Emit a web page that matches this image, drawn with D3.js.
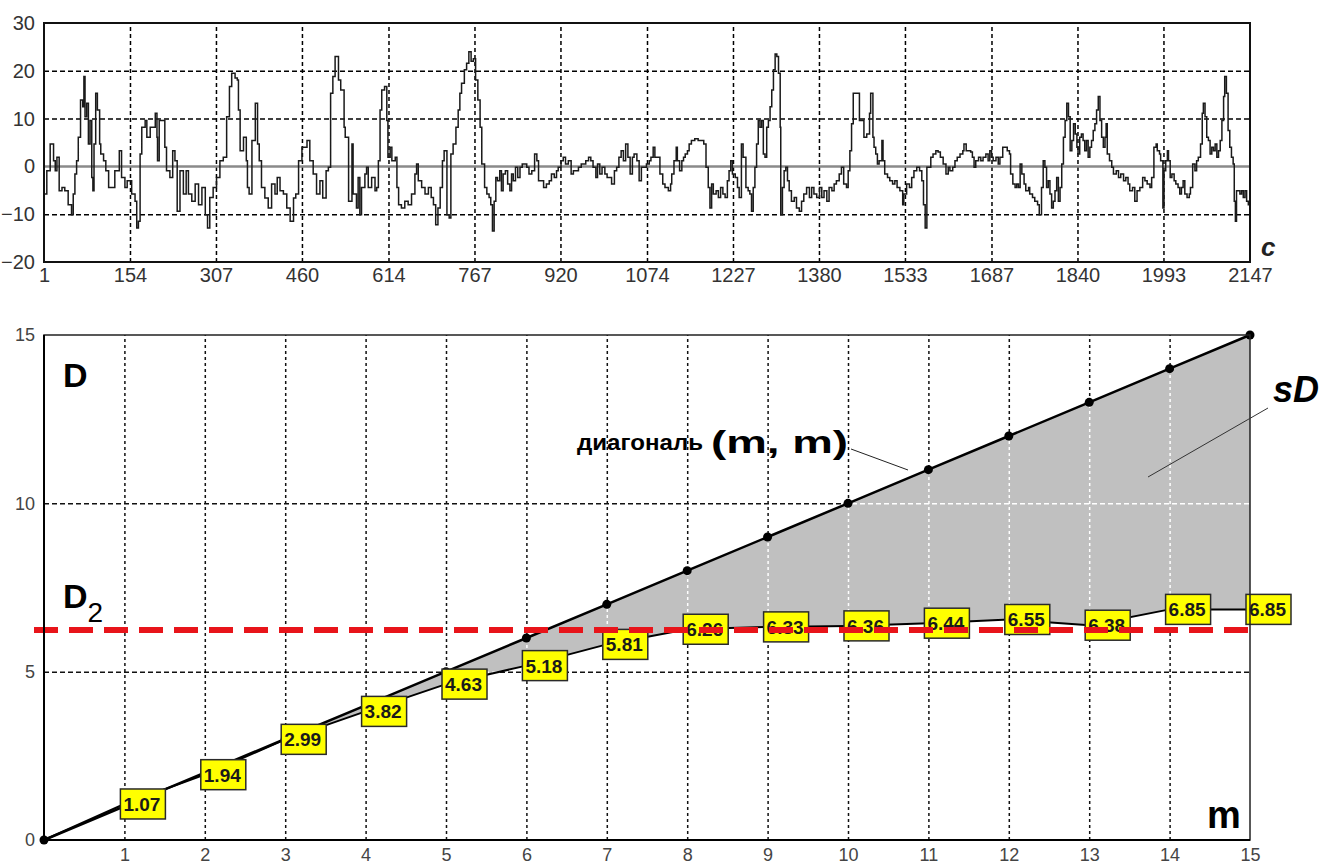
<!DOCTYPE html>
<html>
<head>
<meta charset="utf-8">
<script src="https://cdn.jsdelivr.net/npm/d3@7"></script>
<style>
  body { margin: 0; background: #fff; }
  svg { display: block; font-family: "Liberation Sans", Arial, sans-serif; }
</style>
</head>
<body>
<svg id="chart" width="1338" height="866"></svg>
<script>
// ---- top panel: time series c as [sample, value] ----
const traceA = [[1,-5.8],[6,-0.9],[12,4.7],[18,1.2],[21,-0.9],[24,1.9],[28,-5.1],[33,-4.4],[38,-5.1],[44,-8.0],
  [50,-10.1],[53,-5.8],[56,-1.6],[59,1.2],[62,6.1],[66,13.9],[70,12.5],[72,18.8],[74,10.4],[77,13.2],
  [80,4.7],[83,9.6],[86,-2.3],[88,-5.1],[90,4.7],[93,15.3],[96,11.8],[100,4.7],[102,2.6],[107,1.2],
  [111,-0.9],[116,-4.4],[121,-4.4],[127,-0.9],[135,3.3],[139,-2.3],[145,-4.4],[149,-3.0],[157,-5.8],[163,-7.3],
  [166,-12.9],[169,-11.5],[172,2.6],[175,8.2],[181,9.6],[184,6.1],[190,8.2],[199,11.1],[202,6.1],[203,1.2],
  [206,9.6],[213,9.6],[216,4.0],[219,-0.9],[225,-2.3],[230,3.3],[234,1.2],[238,-9.4],[243,-0.9],[249,-5.8],
  [254,-0.9],[258,-5.8],[264,-7.3],[270,-3.7],[276,-8.0],[282,-4.4],[288,-10.1],[292,-12.9],[296,-6.5],[302,-4.4],
  [308,-2.3],[314,1.2],[320,1.9],[326,10.4],[331,16.7],[335,19.5],[341,18.5],[345,18.1],[347,11.8],[350,3.3],
  [356,6.1],[361,1.2],[363,-4.4],[366,-5.8],[371,5.4],[377,13.2],[381,4.7],[384,1.2],[388,-4.4],[394,-6.6],
  [400,-8.7],[406,-3.7],[412,-5.8],[416,-2.3],[421,-5.1],[427,-5.8],[433,-8.7],[439,-11.5],[445,-6.6],[449,-5.8],
  [454,1.2],[460,4.0],[469,5.4],[474,1.2],[480,-1.6],[486,-5.8],[492,-3.0],[497,-6.6],[503,-0.9],[507,-0.2],
  [511,15.3],[515,18.8],[519,23.0],[525,18.1],[529,16.0],[535,8.2]]

const traceB = [[537,6.1],[543,-7.3],[549,4.7],[551,-5.8],[557,-8.7],[560,-2.3],[563,-10.1],[566,-4.4],[572,-1.6],[575,-0.2],
  [578,-4.4],[584,-2.3],[590,-5.1],[593,-4.4],[596,1.2],[599,11.8],[602,16.0],[607,16.7],[611,9.6],[613,1.9],
  [617,4.0],[620,1.2],[626,1.9],[629,-4.4],[632,-8.0],[637,-8.7],[643,-7.3],[649,-8.0],[655,-5.8],[661,-1.6],
  [664,0.5],[667,-3.0],[673,-4.4],[679,-5.8],[685,-4.4],[690,-6.5],[694,-8.0],[698,-12.2],[702,-8.7],[706,-4.4],
  [710,1.2],[713,3.3],[718,-10.1],[722,-10.8],[725,2.6],[729,4.7],[734,8.2],[738,11.8],[741,15.3],[744,17.4],
  [749,20.2],[753,21.6],[757,24.0],[761,22.0],[765,22.5],[769,18.1],[773,13.9],[777,8.2],[780,0.5],[785,-4.4],
  [789,-5.8],[793,-6.5],[796,-8.0],[799,-13.5],[802,-7.3],[805,-2.3],[808,-3.0],[812,-0.9],[815,-5.1],[818,-1.6],
  [822,-0.9],[826,-3.7],[830,-5.1],[833,-1.6],[836,-3.0],[840,-0.2],[844,-2.3],[848,-0.2],[852,0.5],[857,0.5],
  [860,-0.2],[864,-1.6],[869,-0.9],[874,2.6],[878,1.2],[881,-3.0],[885,-3.0],[890,-4.4],[895,-3.7],[900,-3.0],
  [904,-1.6],[909,-2.3],[913,-0.9],[916,-0.2],[921,1.2],[925,1.9],[929,0.5],[934,1.2],[939,-1.6],[943,-0.9],
  [947,-0.9],[952,-0.2],[957,0.5],[961,0.5],[965,1.2],[970,1.9],[974,1.2],[978,-0.2],[983,-2.3],[986,0.5],
  [990,-1.6],[994,-0.2],[999,-1.6],[1003,-2.3],[1008,-2.3],[1011,-3.7],[1016,-0.9],[1020,-0.2],[1024,1.9],[1028,3.3],
  [1032,1.2],[1036,4.7],[1040,1.9],[1044,-1.6],[1048,1.9],[1051,2.6],[1056,1.2],[1060,-3.0],[1064,-0.2],[1069,-0.2],
  [1073,0.5],[1078,1.2],[1081,1.9]]

const traceC = [[1085,4.0],[1088,1.9],[1092,1.9],[1097,-1.6],[1102,-3.7],[1106,-4.4],[1112,-5.1],[1116,-3.7],[1118,-1.6],[1122,1.2],
  [1126,4.0],[1128,1.2],[1132,-0.9],[1136,1.2],[1139,1.9],[1142,2.6],[1146,3.3],[1149,4.7],[1153,5.4],[1159,5.8],
  [1165,5.4],[1171,5.4],[1175,4.7],[1179,-0.2],[1183,-4.4],[1186,-8.7],[1189,-3.7],[1192,-5.8],[1197,-5.1],[1201,-6.5],
  [1205,-4.4],[1209,-5.8],[1213,-6.5],[1217,-3.0],[1220,-0.9],[1223,1.2],[1226,-1.6],[1231,-2.3],[1235,-4.4],[1238,-6.5],
  [1242,4.7],[1245,1.9],[1250,-4.4],[1254,-5.1],[1257,-5.8],[1260,-9.4],[1263,-4.4],[1266,-0.2],[1269,4.7],[1272,9.6],
  [1275,8.2],[1278,9.6],[1281,2.6],[1284,1.9],[1287,8.2],[1290,9.6],[1293,12.5],[1296,16.0],[1299,20.2],[1302,23.5],
  [1305,23.0],[1308,19.5],[1311,8.2],[1312,-10.1],[1315,-4.4],[1318,-0.9],[1321,-0.2],[1324,-3.0],[1327,-5.1],[1331,-7.3],
  [1336,-6.5],[1340,-8.7],[1345,-9.4],[1349,-7.3],[1353,-5.8],[1358,-4.4],[1363,-6.5],[1367,-4.4],[1371,-5.8],[1376,-6.5],
  [1381,-4.4],[1385,-6.5],[1389,-5.1],[1394,-7.3],[1398,-4.4],[1403,-5.1],[1407,-3.7],[1411,-3.0],[1416,-1.6],[1420,-0.2],
  [1424,-3.7],[1429,-4.4],[1432,-0.9],[1435,3.3],[1438,8.9],[1441,15.3],[1444,15.3],[1448,15.3],[1452,9.6],[1456,9.6],
  [1460,6.1],[1465,6.8],[1470,11.1],[1472,15.3],[1476,6.1],[1478,4.0],[1481,2.6],[1484,0.5],[1487,1.2],[1492,5.4],
  [1494,1.2],[1497,-1.6],[1502,-2.3],[1506,-3.0],[1511,-3.7],[1515,-3.0],[1519,-4.4],[1524,-5.1],[1529,-8.0],[1531,-5.8],
  [1536,-3.7],[1541,-4.4],[1545,-2.3],[1549,-0.9],[1554,-0.2],[1559,-0.9],[1563,-3.0],[1566,-8.0],[1569,-12.9],[1572,-0.2],
  [1575,-0.2],[1579,1.9],[1583,2.6],[1588,3.3],[1592,3.0],[1596,1.9],[1601,0.5],[1606,-1.6],[1610,-0.2]]

const traceD = [[1613,-0.9],[1618,-0.2],[1622,1.2],[1626,1.9],[1631,2.6],[1636,3.3],[1638,4.7],[1642,3.3],[1646,3.3],[1650,3.0],
  [1653,1.9],[1656,-0.2],[1659,1.2],[1664,1.9],[1668,1.2],[1672,1.9],[1677,2.6],[1681,1.2],[1684,3.3],[1687,1.9],
  [1690,1.2],[1695,1.9],[1699,0.5],[1702,1.9],[1707,4.0],[1711,4.0],[1715,3.3],[1719,2.6],[1721,-1.6],[1725,-3.7],
  [1729,-4.4],[1732,-3.7],[1735,-4.4],[1738,0.5],[1741,-1.6],[1745,-3.7],[1748,-5.1],[1753,-4.4],[1755,-5.8],[1760,-6.5],
  [1764,-7.3],[1769,-8.0],[1772,-10.1],[1776,-4.4],[1779,1.2],[1782,-0.2],[1785,-4.4],[1788,-3.0],[1791,-5.8],[1794,-8.7],
  [1797,-7.3],[1800,-5.1],[1803,-2.3],[1806,-7.3],[1809,-4.4],[1812,0.5],[1815,6.1],[1818,9.6],[1821,13.2],[1824,10.4],
  [1827,3.3],[1830,5.4],[1833,8.9],[1836,6.8],[1839,4.0],[1841,2.6],[1844,6.1],[1847,6.8],[1850,5.4],[1853,3.3],
  [1856,5.4],[1859,1.9],[1862,4.0],[1865,5.4],[1868,7.5],[1871,8.9],[1874,11.8],[1877,14.6],[1880,9.6],[1883,6.1],
  [1886,4.0],[1889,6.1],[1891,8.9],[1893,2.6],[1897,1.2],[1901,-0.2],[1904,-1.6],[1909,-0.9],[1913,-2.3],[1917,-1.6],
  [1922,-3.0],[1926,-2.3],[1930,-3.7],[1933,-5.1],[1938,-4.4],[1942,-7.3],[1946,-5.1],[1951,-4.4],[1956,-2.3],[1960,-3.0],
  [1964,-3.7],[1969,-4.4],[1972,-2.3],[1976,4.0],[1980,4.7],[1982,3.3],[1986,2.6],[1988,1.2],[1992,-8.7],[1994,-0.9],
  [1997,1.2],[2000,3.3],[2002,1.2],[2005,-2.3],[2008,-1.6],[2012,-3.0],[2015,-3.7],[2019,-4.4],[2022,-5.8],[2025,-4.4],
  [2028,-3.0],[2031,-5.8],[2035,-6.5],[2039,-5.8],[2041,-4.4],[2045,0.5],[2049,-0.9],[2052,1.2],[2055,1.9],[2059,4.7],
  [2062,11.1],[2064,13.2],[2067,10.4],[2070,6.1],[2073,5.4],[2076,2.6],[2079,4.0],[2082,3.3],[2085,4.7],[2088,1.9],
  [2091,3.3],[2094,5.4],[2097,9.6],[2100,14.6],[2102,18.8],[2105,15.3],[2108,7.5],[2111,4.0],[2114,1.9],[2117,0.5],
  [2119,-7.3],[2121,-11.5],[2123,-5.1],[2126,-5.1],[2129,-5.8],[2132,-5.1],[2135,-6.5],[2138,-5.1],[2141,-7.3],[2144,-8.0],
  [2147,-7.3]]

const topXTicks = [1, 154, 307, 460, 614, 767, 920, 1074, 1227, 1380, 1533, 1687, 1840, 1993, 2147]
const topYTicks = [-20, -10, 0, 10, 20, 30]

// ---- bottom panel: correlation dimension D vs embedding m ----
const mValues = [0, 1, 2, 3, 4, 5, 6, 7, 8, 9, 10, 11, 12, 13, 14, 15]
const dValues = [0, 1.07, 1.94, 2.99, 3.82, 4.63, 5.18, 5.81, 6.26, 6.33, 6.36, 6.44, 6.55, 6.38, 6.85, 6.85]
const d2Level = 6.24
const botXTicks = [1, 2, 3, 4, 5, 6, 7, 8, 9, 10, 11, 12, 13, 14, 15]
const botYTicks = [0, 5, 10, 15]

const svg = d3.select('#chart')
const tickFont = '"Liberation Sans", Arial, sans-serif'

// =============== top panel ===============
const xTop = d3.scaleLinear().domain([1, 2147]).range([44, 1250])
const yTop = d3.scaleLinear().domain([-20, 30]).range([262, 23])
const topPanel = svg.append('g')

// grid
topPanel.append('g')
  .attr('transform', 'translate(0,262)')
  .call(d3.axisBottom(xTop).tickValues(topXTicks.slice(1, -1)).tickSize(-(262 - 23)).tickFormat(''))
  .call(g => g.select('.domain').remove())
  .selectAll('line').attr('stroke', '#000').attr('stroke-width', 1.5).attr('stroke-dasharray', '4,3')
topPanel.append('g')
  .attr('transform', 'translate(44,0)')
  .call(d3.axisLeft(yTop).tickValues([-10, 10, 20]).tickSize(-(1250 - 44)).tickFormat(''))
  .call(g => g.select('.domain').remove())
  .selectAll('line').attr('stroke', '#000').attr('stroke-width', 1.5).attr('stroke-dasharray', '5,3')

// zero line
topPanel.append('line')
  .attr('x1', xTop(1)).attr('x2', xTop(2147))
  .attr('y1', yTop(0)).attr('y2', yTop(0))
  .attr('stroke', '#8a8a8a').attr('stroke-width', 2.5)

const trace = traceA.concat(traceB, traceC, traceD)
topPanel.append('path')
  .datum(trace)
  .attr('fill', 'none')
  .attr('stroke', '#1a1a1a')
  .attr('stroke-width', 1.5)
  .attr('d', d3.line().x(d => xTop(d[0])).y(d => yTop(d[1])).curve(d3.curveStepAfter))

// frame
topPanel.append('rect')
  .attr('x', 44).attr('y', 23).attr('width', 1206).attr('height', 239)
  .attr('fill', 'none').attr('stroke', '#111').attr('stroke-width', 2)

// tick labels
topPanel.append('g')
  .attr('transform', 'translate(0,262)')
  .call(d3.axisBottom(xTop).tickValues(topXTicks).tickSize(0).tickPadding(6).tickFormat(d3.format('d')))
  .call(g => g.select('.domain').remove())
  .selectAll('text').attr('font-size', 20).attr('fill', '#333').attr('font-family', tickFont)
topPanel.append('g')
  .attr('transform', 'translate(44,0)')
  .call(d3.axisLeft(yTop).tickValues(topYTicks).tickSize(0).tickPadding(9))
  .call(g => g.select('.domain').remove())
  .selectAll('text').attr('font-size', 20).attr('fill', '#333').attr('font-family', tickFont)

topPanel.append('text')
  .attr('x', 1261).attr('y', 256)
  .attr('font-size', 26).attr('font-weight', 'bold').attr('font-style', 'italic')
  .attr('fill', '#222')
  .text('c')

// =============== bottom panel ===============
const xBot = d3.scaleLinear().domain([0, 15]).range([44, 1250])
const yBot = d3.scaleLinear().domain([0, 15]).range([840, 335])
const bot = svg.append('g')

function drawGrid(g, colour) {
  g.append('g')
    .attr('transform', 'translate(0,840)')
    .call(d3.axisBottom(xBot).tickValues(botXTicks.slice(0, -1)).tickSize(-(840 - 335)).tickFormat(''))
    .call(s => s.select('.domain').remove())
    .selectAll('line').attr('stroke', colour).attr('stroke-width', 1.5).attr('stroke-dasharray', '3,3')
  g.append('g')
    .attr('transform', 'translate(44,0)')
    .call(d3.axisLeft(yBot).tickValues([5, 10]).tickSize(-(1250 - 44)).tickFormat(''))
    .call(s => s.select('.domain').remove())
    .selectAll('line').attr('stroke', colour).attr('stroke-width', 1.5).attr('stroke-dasharray', '5,3')
}

drawGrid(bot, '#111')

const pts = mValues.map((m, i) => ({ m: m, d: dValues[i] }))

// shaded area between diagonal and D(m)
const area = d3.area()
  .x(p => xBot(p.m))
  .y0(p => yBot(p.d))
  .y1(p => yBot(p.m))
bot.append('path').datum(pts).attr('d', area).attr('fill', '#c0c0c0')

svg.append('defs').append('clipPath').attr('id', 'sdClip')
  .append('path').datum(pts).attr('d', area)
const whiteGrid = bot.append('g').attr('clip-path', 'url(#sdClip)')
drawGrid(whiteGrid, '#fff')

// diagonal (m, m)
bot.append('path')
  .datum(pts)
  .attr('fill', 'none').attr('stroke', '#000').attr('stroke-width', 2.5)
  .attr('d', d3.line().x(p => xBot(p.m)).y(p => yBot(p.m)))
bot.selectAll('.diagDot')
  .data(pts).enter().append('circle')
  .attr('cx', p => xBot(p.m)).attr('cy', p => yBot(p.m)).attr('r', 4.5)
  .attr('fill', '#000')

// D(m)
bot.append('path')
  .datum(pts)
  .attr('fill', 'none').attr('stroke', '#000').attr('stroke-width', 2)
  .attr('d', d3.line().x(p => xBot(p.m)).y(p => yBot(p.d)))
bot.selectAll('.dDot')
  .data(pts).enter().append('circle')
  .attr('cx', p => xBot(p.m)).attr('cy', p => yBot(p.d)).attr('r', 3.5)
  .attr('fill', '#000')

// value boxes
const boxes = bot.selectAll('.valBox')
  .data(pts.filter(p => p.m > 0))
  .enter().append('g')
  .attr('transform', p => 'translate(' + (xBot(p.m) - 4) + ',' + (yBot(p.d) - 15) + ')')
boxes.append('rect')
  .attr('width', 45).attr('height', 30)
  .attr('fill', '#ffff00').attr('stroke', '#2a2a2a').attr('stroke-width', 1.5)
boxes.append('text')
  .attr('x', 3).attr('y', 22)
  .attr('font-size', 19).attr('font-weight', 'bold').attr('fill', '#1a1a1a')
  .text(p => p.d.toFixed(2))

// D2 level
bot.append('line')
  .attr('x1', 34).attr('x2', xBot(15))
  .attr('y1', yBot(d2Level)).attr('y2', yBot(d2Level))
  .attr('stroke', '#e8141a').attr('stroke-width', 6).attr('stroke-dasharray', '24,11')

// frame
bot.append('rect')
  .attr('x', 44).attr('y', 335).attr('width', 1206).attr('height', 505)
  .attr('fill', 'none').attr('stroke', '#222').attr('stroke-width', 1.5)
bot.append('path')
  .attr('d', 'M44,335V840H1250')
  .attr('fill', 'none').attr('stroke', '#000').attr('stroke-width', 2)

// tick labels
bot.append('g')
  .attr('transform', 'translate(0,840)')
  .call(d3.axisBottom(xBot).tickValues(botXTicks).tickSize(0).tickPadding(8))
  .call(g => g.select('.domain').remove())
  .selectAll('text').attr('font-size', 18).attr('fill', '#444').attr('font-family', tickFont)
bot.append('g')
  .attr('transform', 'translate(44,0)')
  .call(d3.axisLeft(yBot).tickValues(botYTicks).tickSize(0).tickPadding(9))
  .call(g => g.select('.domain').remove())
  .selectAll('text').attr('font-size', 18).attr('fill', '#444').attr('font-family', tickFont)

// annotations
bot.append('text')
  .attr('x', 63).attr('y', 387)
  .attr('font-size', 34).attr('font-weight', 'bold').attr('fill', '#000')
  .text('D')
const d2 = bot.append('text')
  .attr('x', 63).attr('y', 608)
  .attr('font-size', 34).attr('font-weight', 'bold').attr('fill', '#000')
d2.append('tspan').text('D')
d2.append('tspan').attr('dy', 14).attr('font-size', 28).attr('font-weight', 'normal').text('2')

bot.append('text')
  .attr('x', 1207).attr('y', 828)
  .attr('font-size', 38).attr('font-weight', 'bold').attr('fill', '#000')
  .text('m')

// "диагональ (m, m)" label, stretched to the width it has in the picture
bot.append('text')
  .attr('x', 577).attr('y', 450)
  .attr('font-size', 22).attr('font-weight', 'bold').attr('fill', '#000')
  .attr('textLength', 126).attr('lengthAdjust', 'spacingAndGlyphs')
  .text('диагональ')
bot.append('text')
  .attr('x', 711).attr('y', 453)
  .attr('font-size', 31).attr('font-weight', 'bold').attr('fill', '#000')
  .attr('textLength', 137).attr('lengthAdjust', 'spacingAndGlyphs')
  .text('(m, m)')
bot.append('line')
  .attr('x1', 851).attr('y1', 449).attr('x2', 908).attr('y2', 470)
  .attr('stroke', '#222').attr('stroke-width', 1)

bot.append('text')
  .attr('x', 1273).attr('y', 402)
  .attr('font-size', 36).attr('font-weight', 'bold').attr('font-style', 'italic').attr('fill', '#000')
  .text('sD')
bot.append('line')
  .attr('x1', 1268).attr('y1', 408).attr('x2', 1148).attr('y2', 477)
  .attr('stroke', '#333').attr('stroke-width', 1)
</script>
</body>
</html>
